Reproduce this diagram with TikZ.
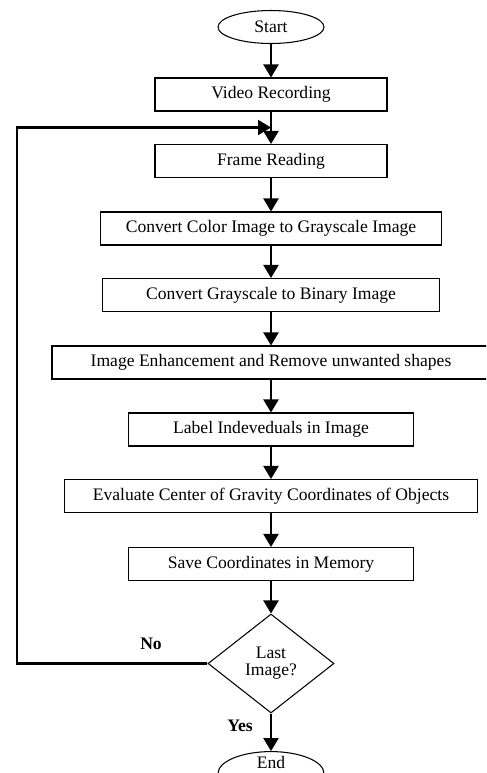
\documentclass[tikz,border=0pt]{standalone}
\usepackage{fontspec}
\setmainfont{Liberation Serif}
\usetikzlibrary{shapes.geometric,arrows.meta}

\tikzset{
  box/.style={draw,line width=0.6pt,minimum height=0.66cm,inner sep=0pt},
  term/.style={draw,ellipse,line width=0.6pt,minimum width=2.12cm,minimum height=0.66cm,inner sep=0pt},
  test/.style={draw,diamond,line width=0.6pt,minimum width=2.52cm,minimum height=1.98cm,
    inner sep=0pt,align=center,font=\fontsize{10}{9.8}\selectfont},
  flow/.style={line width=1.2pt},
}

\begin{document}
\begin{tikzpicture}[>={Triangle[length=2.6mm,width=3mm]},font=\fontsize{10}{12}\selectfont]
        \clip (0,0) rectangle (9.72,-15.46);
        % steps
        \node[term] (start) at (5.42,-0.54) {Start};
        \node[box,minimum width=4.64cm] (video) at (5.42,-1.89) {Video Recording};
        \node[box,minimum width=4.64cm] (frame) at (5.42,-3.22) {Frame Reading};
        \node[box,minimum width=6.82cm] (gray) at (5.42,-4.57) {Convert Color Image to Grayscale Image};
        \node[box,minimum width=6.74cm] (binary) at (5.42,-5.90) {Convert Grayscale to Binary Image};
        \node[box,minimum width=8.76cm] (enhance) at (5.42,-7.25) {Image Enhancement and Remove unwanted shapes};
        \node[box,minimum width=5.70cm] (label) at (5.42,-8.59) {Label Indeveduals in Image};
        \node[box,minimum width=8.26cm] (gravity) at (5.42,-9.92) {Evaluate Center of Gravity Coordinates of Objects};
        \node[box,minimum width=5.70cm] (save) at (5.42,-11.28) {Save Coordinates in Memory};
        \node[test] (last) at (5.42,-13.27) {Last\\Image?};
        \node[term,text height=0.2cm,text depth=0.42cm] (end) at (5.42,-15.47) {End};
        \node[font=\bfseries] (no) at (3.02,-12.88) {No};
        \node[font=\bfseries] (yes) at (4.80,-14.52) {Yes};
        % arrows
        \draw[flow,->] (start) -- (video);
        \draw[flow,->] (video) -- (frame);
        \draw[flow,->] (frame) -- (gray);
        \draw[flow,->] (gray) -- (binary);
        \draw[flow,->] (binary) -- (enhance);
        \draw[flow,->] (enhance) -- (label);
        \draw[flow,->] (label) -- (gravity);
        \draw[flow,->] (gravity) -- (save);
        \draw[flow,->] (save) -- (last);
        \draw[flow,->] (last) -- (end);
        % loop back
        \coordinate (corner) at (0.34,-2.55);
        \coordinate (back) at (5.42,-2.55);
        \draw[flow,->] (last.west) -| (corner) -- (back);
    \end{tikzpicture}
\end{document}
